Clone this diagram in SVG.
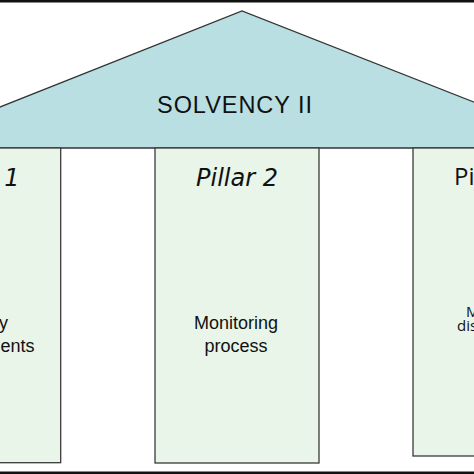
<svg xmlns="http://www.w3.org/2000/svg" width="474" height="474" viewBox="0 0 474 474">
<style>
.pillar{fill:#e8f5e8;stroke:#3a3a3a;stroke-width:1.3}
.title{font-family:"DejaVu Sans",sans-serif;font-style:oblique;font-size:24px;fill:#111}
.body{font-family:"Liberation Sans",Arial,sans-serif;font-size:18px;fill:#111}
.p3t{font-family:"Open Sans","Noto Sans",sans-serif;font-size:24px;fill:#111}
.p3b{font-family:"Open Sans","Noto Sans",sans-serif;font-size:15px;fill:#111}
</style>
<rect width="474" height="474" fill="#fff"/>
<g id="roof">
<polygon points="-20,115 242,11 494,110 494,148 -20,148" fill="#b9dfe3" stroke="#333" stroke-width="1.3"/>
<text x="234.5" y="112.5" text-anchor="middle" font-family="Liberation Sans, Arial, sans-serif" font-size="23.5" textLength="155" fill="#111">SOLVENCY II</text>
</g>
<g id="pillar1">
<rect class="pillar" x="-103" y="148" width="163.7" height="314.7"/>
<text class="title" x="19.5" y="186" text-anchor="end">Pillar 1</text>
<text class="body" x="8" y="329" text-anchor="end">Solvency</text>
<text class="body" x="34.5" y="352" text-anchor="end">requirements</text>
</g>
<g id="pillar2">
<rect class="pillar" x="155" y="148" width="164" height="315"/>
<text class="title" x="237" y="186" text-anchor="middle">Pillar 2</text>
<text class="body" x="236" y="329" text-anchor="middle">Monitoring</text>
<text class="body" x="236" y="352" text-anchor="middle">process</text>
</g>
<g id="pillar3">
<rect class="pillar" x="413" y="148" width="164" height="308"/>
<text class="p3t" x="454" y="185">Pillar 3</text>
<text class="p3b" x="466" y="317">Market</text>
<text class="p3b" x="457" y="331">discipline</text>
</g>
<g id="connectors"></g>
<rect x="0" y="0" width="474" height="2.5" fill="#111"/>
<rect x="0" y="471.5" width="474" height="2.5" fill="#111"/>
</svg>
